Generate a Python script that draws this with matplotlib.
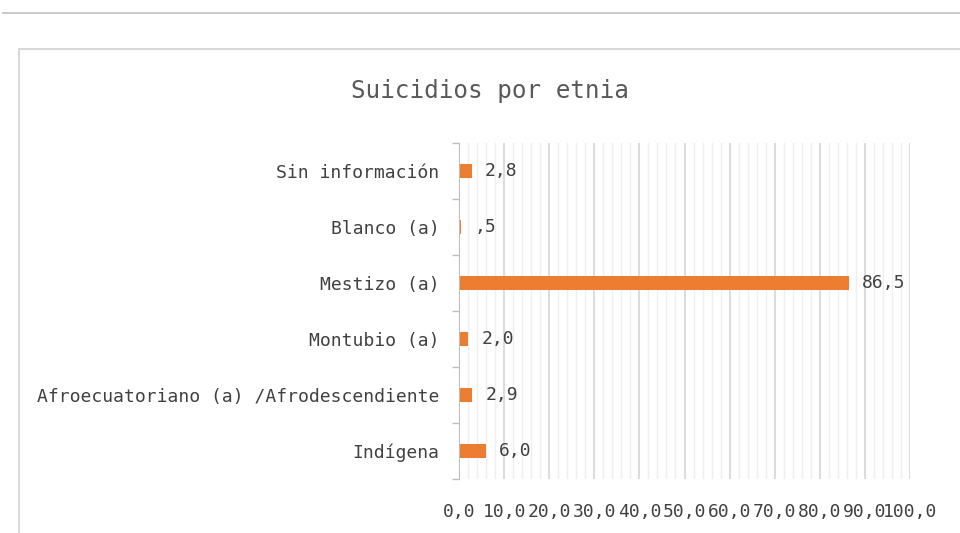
import matplotlib.pyplot as plt
from matplotlib.lines import Line2D
from matplotlib.patches import Rectangle
import numpy as np

# bottom to top, as barh draws them
categories = ['Indígena', 'Afroecuatoriano (a) /Afrodescendiente', 'Montubio (a)',
              'Mestizo (a)', 'Blanco (a)', 'Sin información']
values = [6.0, 2.9, 2.0, 86.5, 0.5, 2.8]
x_ticks = [0, 10, 20, 30, 40, 50, 60, 70, 80, 90, 100]


def es_fmt(v):
    s = f'{v:.1f}'.replace('.', ',')
    if s.startswith('0,') and v != 0:
        s = s[1:]
    return s


plt.rcParams['font.family'] = ['DejaVu Sans Mono']
text_color = '#404040'
orange = '#ED7D31'

fig = plt.figure(figsize=(9.6, 5.33), dpi=100)

# frame lines of the screenshot
fig.add_artist(Line2D([3 / 960, 1], [1 - 13 / 533, 1 - 13 / 533],
                      color='#c0c0c0', lw=1.2, transform=fig.transFigure))
fig.add_artist(Rectangle((19 / 960, -0.1), 1.0, 1 - 49 / 533 + 0.1, fill=False,
                         edgecolor='#d9d9d9', lw=1.5, transform=fig.transFigure))

ax = fig.add_axes([459 / 960, 1 - 479 / 533, (910 - 459) / 960, (479 - 143) / 533])
y = np.arange(len(categories))
ax.barh(y, values, height=0.26, color=orange, zorder=3)

for yi, v in zip(y, values):
    ax.annotate(es_fmt(v), (v, yi), xytext=(9.5, 0), textcoords='offset points',
                ha='left', va='center', fontsize=13, color=text_color)

ax.set_xlim(0, 100)
ax.set_ylim(-0.5, len(categories) - 0.5)
ax.set_xticks(x_ticks)
ax.set_xticklabels([es_fmt(t) for t in x_ticks], fontsize=13, color=text_color)
ax.set_xticks(np.arange(0, 101, 2), minor=True)
ax.set_yticks(y)
ax.set_yticklabels(categories, fontsize=13, color=text_color)
ax.set_yticks(np.arange(-0.5, len(categories), 1), minor=True)

ax.grid(axis='x', which='major', color='#d9d9d9', lw=1.3, zorder=0)
ax.grid(axis='x', which='minor', color='#efefef', lw=1.0, zorder=0)
ax.tick_params(axis='x', which='both', length=0, pad=17)
ax.tick_params(axis='y', which='major', length=0, pad=14)
ax.tick_params(axis='y', which='minor', length=5, color='#bfbfbf', width=1)

for s in ['top', 'right', 'bottom']:
    ax.spines[s].set_visible(False)
ax.spines['left'].set_color('#bfbfbf')
ax.spines['left'].set_zorder(4)

fig.text(490 / 960, 1 - 91 / 533, 'Suicidios por etnia', ha='center', va='center',
         fontsize=17.5, color='#595959')

fig.savefig('out.png', dpi=100)
